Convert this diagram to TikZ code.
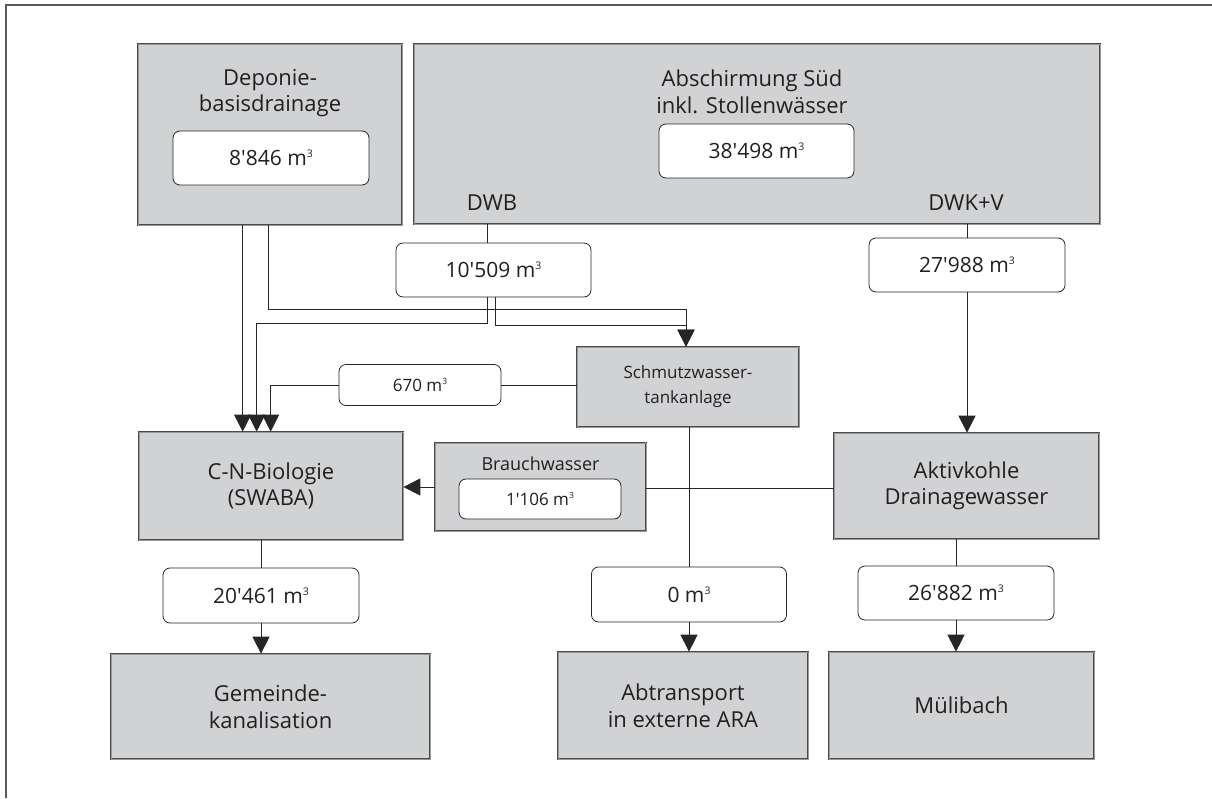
\documentclass[tikz,border=0pt]{standalone}
\usepackage{fontspec}
\setmainfont{Open Sans}
\usetikzlibrary{arrows.meta}
\definecolor{boxfill}{HTML}{D1D2D4}
\definecolor{boxline}{HTML}{4A4A4A}
\definecolor{txt}{HTML}{231F20}
\newcommand{\cbm}{m\raisebox{0.4em}{\scalebox{0.5}{3}}}
\newcommand{\ap}{\textquotesingle}
\tikzset{
  graybox/.style={draw=boxline, fill=boxfill, line width=0.7pt, double=black!40, double distance=0.7pt, inner sep=0pt, text=txt, align=center},
  valbox/.style={draw=black!85, fill=white, rounded corners=7pt, line width=0.8pt, inner sep=0pt, text=txt},
  lbl/.style={text=txt, align=center, inner sep=0pt},
  big/.style={font=\fontsize{22}{26.5}\selectfont},
  num/.style={font=\fontsize{21}{25}\selectfont},
  small/.style={font=\fontsize{17}{25}\selectfont},
  con/.style={draw=black!85, line width=0.8pt},
  arr/.style={con, -{Triangle[width=17pt,length=17pt]}},
}
\begin{document}
\begin{tikzpicture}[x=1pt,y=-1pt]
\useasboundingbox (0,0) rectangle (1212,798);
% outer frame
\draw[draw=black!65, line width=1.6pt] (6,798) -- (6,5) -- (1212,5);

% top boxes
\node[graybox, minimum width=264pt, minimum height=181pt] (dep) at (270,134.5) {};
\node[lbl, big] (deptitle) at (270,93) {Deponie-\\basisdrainage};
\node[valbox, num, minimum width=196pt, minimum height=54pt] (m8846) at (271,158) {8\ap846 \cbm};

\node[graybox, minimum width=686pt, minimum height=180pt] (abs) at (757,134) {};
\node[lbl, big] (abstitle) at (752,92) {Abschirmung Süd\\inkl. Stollenwässer};
\node[valbox, num, minimum width=195pt, minimum height=54pt] (m38498) at (756.5,151) {38\ap498 \cbm};
\node[lbl, big] (dwb) at (492,203) {DWB};
\node[lbl, big] (dwkv) at (966,203) {DWK+V};

% flow value boxes middle
\node[valbox, num, minimum width=195pt, minimum height=54pt] (m10509) at (493.5,270) {10\ap509 \cbm};
\node[valbox, num, minimum width=196pt, minimum height=54pt] (m27988) at (967,265) {27\ap988 \cbm};
\node[valbox, small, minimum width=162pt, minimum height=41pt] (m670) at (420,385) {670 \cbm};

\node[graybox, small, minimum width=222pt, minimum height=80pt] (schm) at (688,387) {Schmutzwasser-\\tankanlage};

\node[graybox, big, minimum width=264pt, minimum height=108pt] (cn) at (271,486) {C-N-Biologie\\(SWABA)};
\node[graybox, minimum width=211pt, minimum height=88pt] (brauch) at (540.5,487) {};
\node[lbl, font=\fontsize{18}{22}\selectfont] (brauchtitle) at (540.5,464) {Brauchwasser};
\node[valbox, small, minimum width=162pt, minimum height=40pt] (m1106) at (540,499) {1\ap106 \cbm};
\node[graybox, big, minimum width=265pt, minimum height=106pt] (akt) at (966.5,486) {Aktivkohle\\Drainagewasser};

% bottom values
\node[valbox, num, minimum width=196pt, minimum height=55pt] (m20461) at (261,595.5) {20\ap461 \cbm};
\node[valbox, num, minimum width=195pt, minimum height=55pt] (m0) at (689,594.5) {0 \cbm};
\node[valbox, num, minimum width=196pt, minimum height=54pt] (m26882) at (956,593) {26\ap882 \cbm};

% bottom boxes
\node[graybox, big, minimum width=319pt, minimum height=105pt] (gem) at (270.5,706.5) {Gemeinde-\\kanalisation};
\node[graybox, big, minimum width=250pt, minimum height=107pt] (abt) at (683,705.5) {Abtransport\\in externe ARA};
\node[graybox, big, minimum width=265pt, minimum height=107pt] (mul) at (961.5,705.5) {Mülibach};

% connectors
\draw[con] ([xshift=-6.5pt]m10509.north |- abs.south) -- ([xshift=-6.5pt]m10509.north);
\draw[con] (m27988.north |- abs.south) -- (m27988.north);
\draw[arr] (m27988.south) -- (m27988.south |- akt.north);

% Deponie lines
\draw[arr] ([xshift=105pt]dep.south west) -- ([xshift=104pt]cn.north west);
\draw[arr] ([xshift=131pt]dep.south west) -- ++(0,84) -| ([xshift=-2pt]schm.north);
% 10'509 lines
\draw[arr] ([xshift=-6.5pt]m10509.south) -- ++(0,26) -| ([xshift=118pt]cn.north west);
\draw[arr] ([xshift=1.5pt]m10509.south) -- ++(0,28) -| ([xshift=-2pt]schm.north);
% 670
\draw[arr] (m670.west) -| ([xshift=132pt]cn.north west);
\draw[con] (m670.east) -- (m670.east -| schm.west);
% Brauchwasser
\draw[arr] (brauch.west) -- (brauch.west -| cn.east);
\draw[con] ([yshift=-1pt]brauch.east) -- ([yshift=-1pt]brauch.east -| akt.west);
% Schmutzwasser down
\draw[con] (m0.north |- schm.south) -- (m0.north);
\draw[arr] (m0.south) -- (m0.south |- abt.north);
% C-N down
\draw[con] (m20461.north |- cn.south) -- (m20461.north);
\draw[arr] (m20461.south) -- (m20461.south |- gem.north);
% Aktivkohle down
\draw[con] (m26882.north |- akt.south) -- (m26882.north);
\draw[arr] (m26882.south) -- (m26882.south |- mul.north);
\end{tikzpicture}
\end{document}
